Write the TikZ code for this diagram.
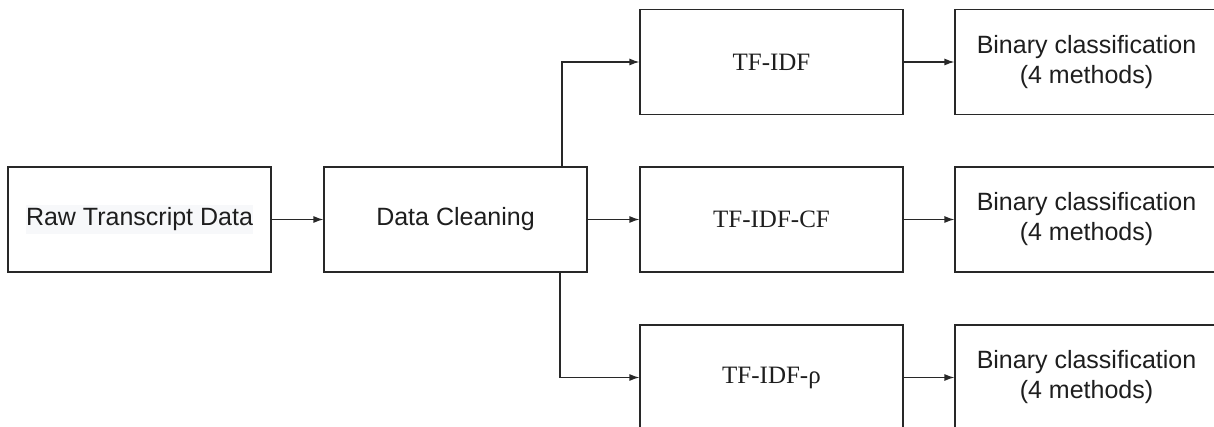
\documentclass[tikz,border=0pt]{standalone}
\usepackage{fontspec}
\setmainfont{Liberation Serif}
\newfontfamily\arialf{Liberation Sans}
\usetikzlibrary{arrows.meta}
\definecolor{linec}{RGB}{40,40,40}
\definecolor{textc}{RGB}{30,30,30}
\definecolor{hl}{RGB}{247,248,250}
\tikzset{
  box/.style={draw=linec, line width=1.2pt, rectangle, minimum width=263pt, minimum height=105pt, inner sep=0pt, align=center, text=textc},
  sansbox/.style={box, font=\arialf\fontsize{25}{30}\selectfont},
  serifbox/.style={box, font=\fontsize{25}{30}\selectfont},
  arr/.style={draw=linec, line width=1.2pt, -{Latex[length=10pt,width=7pt]}}
}
\begin{document}
\begin{tikzpicture}[x=1pt,y=-1pt]
\useasboundingbox (0,0) rectangle (1214,427);
\clip (0,0) rectangle (1214,427);
\fill[white] (0,0) rectangle (1214,427);
\node[sansbox] (raw) at (139.5,219.5) {};
\node[fill=hl, inner xsep=0pt, inner ysep=3pt, text=textc, font=\arialf\fontsize{25}{30}\selectfont] (rawt) at (139.5,219.5) {Raw Transcript Data};
\node[sansbox] (clean) at (455.5,219.5) {Data Cleaning};
\node[serifbox] (tfidf) at (771.5,62) {TF-IDF};
\node[serifbox] (cf) at (771.5,219.5) {TF-IDF-CF};
\node[serifbox] (rho) at (771.5,377.5) {TF-IDF-ρ};
\node[sansbox] (b1) at (1086.5,62) {Binary classification\\(4 methods)};
\node[sansbox] (b2) at (1086.5,219.5) {Binary classification\\(4 methods)};
\node[sansbox] (b3) at (1086.5,377.5) {Binary classification\\(4 methods)};
\draw[arr] (raw) -- (clean);
\draw[arr] (clean) -- (cf);
\draw[arr] ([xshift=106.5pt]clean.north) |- (tfidf.west);
\draw[arr] ([xshift=104.5pt]clean.south) |- (rho.west);
\draw[arr] (tfidf) -- (b1);
\draw[arr] (cf) -- (b2);
\draw[arr] (rho) -- (b3);
\end{tikzpicture}
\end{document}
